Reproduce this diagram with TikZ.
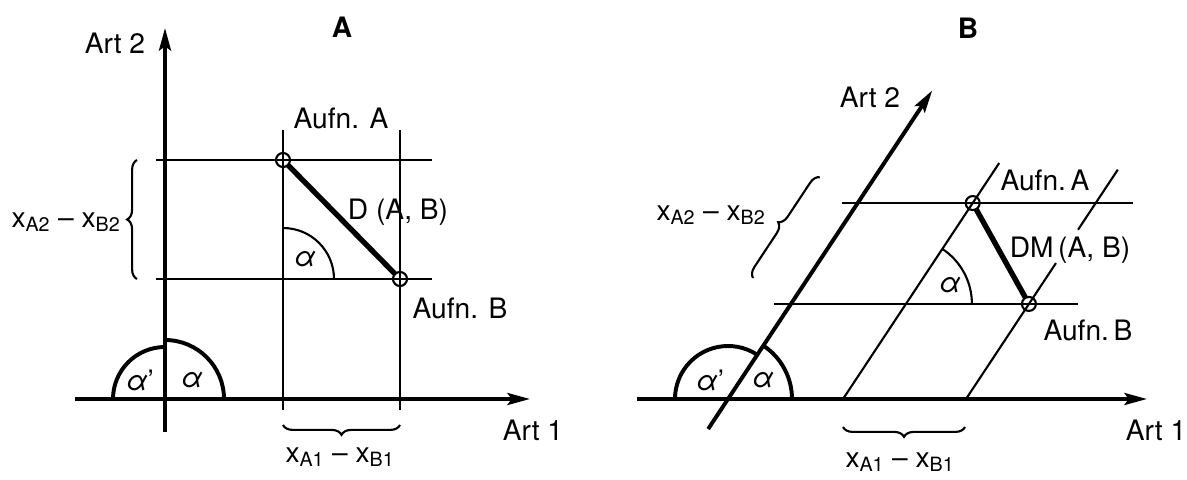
\documentclass[tikz,border=0pt]{standalone}
\usepackage{fontspec}
\setmainfont{TeX Gyre Heros}
\usetikzlibrary{arrows.meta,decorations.pathreplacing}

\begin{document}
\begin{tikzpicture}[x=0.025cm, y=0.025cm, >={Stealth[length=16pt,width=8.5pt,inset=3pt]},
    line width=1.5pt, font=\fontsize{20}{24}\selectfont,
    axis/.style={line width=2.8pt},
    dist/.style={line width=3.8pt, shorten <=5pt, shorten >=5pt},
    brc/.style={decorate, decoration={brace, amplitude=7pt}, line width=1.5pt},
    ttl/.style={font=\fontsize{20}{24}\selectfont\bfseries}]
  \useasboundingbox (0,0) rectangle (1187,479);
      \def\al{56.5}   % angle of Art 2 in B
      \def\dx{x\textsubscript{A1} -- x\textsubscript{B1}}
      \def\dy{x\textsubscript{A2} -- x\textsubscript{B2}}
      \def\ang{{\itshape α}}
  % A: rectangular axes
      \coordinate (OA) at (165,80);
      \coordinate (PA) at (283,319);  % Aufn. A
      \coordinate (PB) at (400,200);  % Aufn. B
      \node[ttl] (titleA) at (342,452) {A};
      \draw[axis,->] (75,80) -- (530,80) node (art1A) at (533,49) {Art 1};
      \draw[axis,->] (165,47) -- (165,451) node (art2A) at (115,436) {Art 2};
      \draw (156,319) -- (432,319);
      \draw (156,200) -- (432,200);
      \draw (283,69) -- (283,349);
      \draw (400,69) -- (400,349);
      \draw (PA) circle (7);
      \draw (PB) circle (7);
      \draw[dist] (PA) -- (PB);
      \draw (283,200) ++(51,0) arc (0:90:51);
      \draw[axis] (OA) ++(59,0) arc (0:90:59);
      \draw[axis] (OA) ++(0,52) arc (90:180:52);
      \node (alA) at (305,220) {\ang};
      \node (alOA) at (192,99) {\ang};
      \node (alpOA) at (140,99) {\ang'};
      \node (aufnAA) at (341,361) {Aufn. A};
      \node (aufnBA) at (460,171) {Aufn. B};
      \node (distA) at (398,267) {D (A, B)};
      \draw[brc] (137,200) -- (137,319);
      \node (dyA) at (66,257) {\dy};
      \draw[brc] (400,54) -- (283,54);
      \node (dxA) at (340,22) {\dx};
  % B: oblique axes
      \coordinate (OB) at (728,80);
      \coordinate (LA) at (843,80);
      \coordinate (LB) at (966,80);
      \path (LA) ++(\al:235) coordinate (MA);   % Aufn. A
      \path (LB) ++(\al:114) coordinate (MB);   % Aufn. B
      \path (LA) ++(\al:114) coordinate (VA);
      \node[ttl] (titleB) at (968,451) {B};
      \draw[axis,->] (637,80) -- (1147,80) node (art1B) at (1156,49) {Art 1};
      \draw[axis,->] (OB) ++(\al+180:36) -- ++(\al:406) node (art2B) at (870,382) {Art 2};
      \draw (842,276) -- (1133,276);
      \draw (774,175) -- (1078,175);
      \draw (LA) -- ++(\al:283);
      \draw (LB) -- ++(\al:163);
      \draw (LB) ++(\al:203) -- ++(\al:72);
      \draw (MA) circle (7);
      \draw (MB) circle (7);
      \draw[dist] (MA) -- (MB);
      \draw (VA) ++(66,0) arc (0:\al:66);
      \draw[axis] (OB) ++(64,0) arc (0:\al:64);
      \draw[axis] (OB) ++(\al:53) arc (\al:180:53);
      \node (alB) at (950,194) {\ang};
      \node (alOB) at (763,99) {\ang};
      \node (alpOB) at (710,99) {\ang'};
      \node (aufnAB) at (1045,299) {Aufn.\,A};
      \node (aufnBB) at (1088,149) {Aufn.\,B};
      \node (distB) at (1070,229) {DM\,(A, B)};
      \draw[brc] (753,201) -- ++(\al:121);
      \node (dyB) at (711,264) {\dy};
      \draw[brc] (965,52) -- (843,52);
      \node (dxB) at (900,17) {\dx};
\end{tikzpicture}
\end{document}
